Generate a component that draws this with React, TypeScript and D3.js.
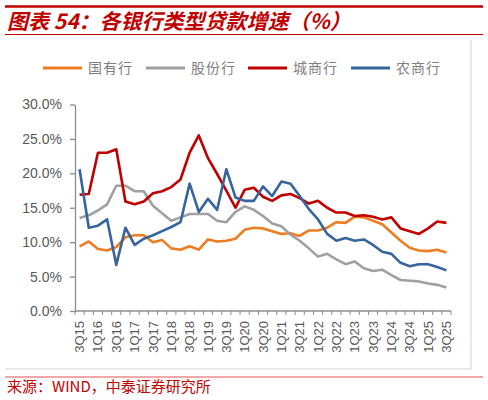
import React, { useEffect, useRef } from "react";
import * as d3 from "d3";

// quarters, 3Q15 .. 3Q25
const quarters = [
  "3Q15", "4Q15", "1Q16", "2Q16", "3Q16", "4Q16", "1Q17", "2Q17", "3Q17", "4Q17",
  "1Q18", "2Q18", "3Q18", "4Q18", "1Q19", "2Q19", "3Q19", "4Q19", "1Q20", "2Q20",
  "3Q20", "4Q20", "1Q21", "2Q21", "3Q21", "4Q21", "1Q22", "2Q22", "3Q22", "4Q22",
  "1Q23", "2Q23", "3Q23", "4Q23", "1Q24", "2Q24", "3Q24", "4Q24", "1Q25", "2Q25",
  "3Q25",
];

// 国有行
const stateOwned = [
  9.4, 10.1, 9.0, 8.8, 9.3, 10.7, 11.0, 11.0, 10.0, 10.3,
  9.1, 8.9, 9.4, 8.9, 10.4, 10.1, 10.2, 10.5, 11.8, 12.1,
  12.0, 11.6, 11.2, 11.3, 10.9, 11.7, 11.7, 12.1, 12.9, 12.8,
  13.7, 13.6, 13.1, 12.6, 11.4, 10.2, 9.2, 8.8, 8.7, 8.9,
  8.5,
];

// 股份行
const jointStock = [
  13.5, 13.9, 14.6, 15.5, 18.2, 18.2, 17.4, 17.4, 15.3, 14.2,
  13.1, 13.6, 14.1, 14.1, 14.1, 13.1, 12.9, 14.4, 15.2, 14.7,
  13.8, 12.7, 12.3, 11.1, 10.2, 9.1, 7.9, 8.3, 7.5, 6.8,
  7.2, 6.2, 5.8, 6.0, 5.2, 4.5, 4.4, 4.3, 4.0, 3.8,
  3.4,
];

// 城商行
const cityBanks = [
  16.9, 17.0, 23.0, 23.0, 23.5, 15.9, 15.5, 15.9, 17.1, 17.4,
  18.0, 19.1, 23.0, 25.5, 22.2, 19.9, 17.5, 15.0, 17.6, 17.9,
  16.6, 16.0, 16.8, 17.0, 16.4, 15.6, 16.0, 15.0, 14.3, 14.3,
  13.8, 13.9, 13.7, 13.3, 13.6, 12.0, 11.6, 11.2, 12.0, 13.0,
  12.8,
];

// 农商行
const ruralBanks = [
  20.6, 12.1, 12.4, 13.3, 6.7, 12.1, 9.6, 10.5, 11.0, 11.6,
  12.2, 12.9, 18.5, 14.4, 16.3, 14.7, 20.6, 16.5, 16.0, 16.0,
  18.1, 16.7, 18.8, 18.5, 16.7, 14.8, 13.3, 11.2, 10.2, 10.6,
  10.2, 10.4, 9.6, 8.6, 8.3, 7.0, 6.5, 6.8, 6.8, 6.4,
  5.9,
];

const seriesNames = ["国有行", "股份行", "城商行", "农商行"];
const seriesColors = ["#ee7d22", "#a0a0a0", "#c00000", "#36649c"];
const yTicks = [0, 5, 10, 15, 20, 25, 30];

const App: React.FC = () => {
  const svgRef = useRef<SVGSVGElement>(null);

  useEffect(() => {
    if (!svgRef.current) return;
    const svg = d3.select(svgRef.current);
    svg.selectAll("*").remove();

    const width = 488;
    const height = 400;
    const red = "#c00000";
    const axisColor = "#8c8c8c";
    const textColor = "#595959";

    svg.attr("width", width).attr("height", height);
    svg.append("rect").attr("width", width).attr("height", height).attr("fill", "#fff");

    // Header
    svg.append("line")
      .attr("x1", 5).attr("x2", 483).attr("y1", 6.5).attr("y2", 6.5)
      .attr("stroke", red).attr("stroke-width", 2.5);
    svg.append("text")
      .attr("x", 7).attr("y", 29)
      .attr("font-family", "'Noto Sans CJK SC', sans-serif")
      .attr("font-size", "21px")
      .attr("font-weight", "bold")
      .attr("font-style", "italic")
      .attr("fill", red)
      .text("图表 54：各银行类型贷款增速（%）");
    svg.append("line")
      .attr("x1", 5).attr("x2", 483).attr("y1", 34.5).attr("y2", 34.5)
      .attr("stroke", red).attr("stroke-width", 1);

    // Frame (right and bottom edges)
    svg.append("path")
      .attr("d", "M471,40V369H5")
      .attr("fill", "none")
      .attr("stroke", "#d4d4d4")
      .attr("stroke-width", 1);

    // Legend
    const legendX = [43, 146, 248, 351];
    seriesNames.forEach((name, i) => {
      const g = svg.append("g").attr("transform", `translate(${legendX[i]},68)`);
      g.append("line")
        .attr("x1", 0).attr("x2", 39).attr("y1", 0).attr("y2", 0)
        .attr("stroke", seriesColors[i]).attr("stroke-width", 3);
      g.append("text")
        .attr("x", 45).attr("y", 0).attr("dy", "0.36em")
        .attr("font-family", "'Noto Sans CJK SC', sans-serif")
        .attr("font-size", "14px")
        .attr("letter-spacing", "1px")
        .attr("fill", "#7f7f7f")
        .text(name);
    });

    // Scales
    const x = d3.scaleBand<string>().domain(quarters).range([75, 451]).padding(0);
    const y = d3.scaleLinear().domain([0, 30]).range([311, 104.5]);
    const cx = (q: string) => (x(q) as number) + x.bandwidth() / 2;

    // Y axis
    const yAxis = svg.append("g")
      .attr("transform", "translate(75,0)")
      .call(
        d3.axisLeft(y)
          .tickValues(yTicks)
          .tickSize(5)
          .tickSizeOuter(0)
          .tickPadding(8)
          .tickFormat((d) => `${(d as number).toFixed(1)}%`)
      );
    yAxis.select(".domain").attr("stroke", axisColor).attr("stroke-width", 1.3);
    yAxis.selectAll(".tick line").attr("stroke", axisColor).attr("stroke-width", 1.3);
    yAxis.selectAll(".tick text")
      .attr("fill", textColor)
      .attr("font-family", "'Liberation Sans', Arial, sans-serif")
      .attr("font-size", "14px");

    // X axis: line, boundary ticks, labels every other quarter
    const xAxis = svg.append("g");
    xAxis.append("line")
      .attr("x1", 75).attr("x2", 451).attr("y1", 311).attr("y2", 311)
      .attr("stroke", axisColor).attr("stroke-width", 1.3);
    const edges = quarters.map((q) => x(q) as number).concat([x.range()[1]]);
    xAxis.selectAll("line.tick")
      .data(edges)
      .join("line")
      .attr("class", "tick")
      .attr("x1", (d) => d).attr("x2", (d) => d)
      .attr("y1", 311).attr("y2", 315)
      .attr("stroke", axisColor).attr("stroke-width", 1);
    xAxis.selectAll("text")
      .data(quarters.filter((_, i) => i % 2 === 0))
      .join("text")
      .attr("transform", (d) => `translate(${cx(d)},321) rotate(-90)`)
      .attr("text-anchor", "end")
      .attr("dy", "0.35em")
      .attr("font-family", "'Liberation Sans', Arial, sans-serif")
      .attr("font-size", "13px")
      .attr("fill", textColor)
      .text((d) => d);

    // Lines
    const seriesData = [stateOwned, jointStock, cityBanks, ruralBanks];
    const line = d3.line<number>()
      .x((_, i) => cx(quarters[i]))
      .y((d) => y(d));
    seriesData.forEach((values, i) => {
      svg.append("path")
        .datum(values)
        .attr("d", line)
        .attr("fill", "none")
        .attr("stroke", seriesColors[i])
        .attr("stroke-width", 2.6)
        .attr("stroke-linejoin", "round");
    });

    // Footer
    svg.append("line")
      .attr("x1", 5).attr("x2", 483).attr("y1", 377).attr("y2", 377)
      .attr("stroke", "#e05050").attr("stroke-width", 1.2);
    svg.append("text")
      .attr("x", 7).attr("y", 392)
      .attr("font-family", "'Noto Sans CJK SC', sans-serif")
      .attr("font-size", "15px")
      .attr("fill", red)
      .text("来源：WIND，中泰证券研究所");
  }, []);

  return (
    <div style={{ position: "absolute", left: 0, top: 0 }}>
      <svg ref={svgRef} style={{ display: "block" }} />
    </div>
  );
};

export default App;
